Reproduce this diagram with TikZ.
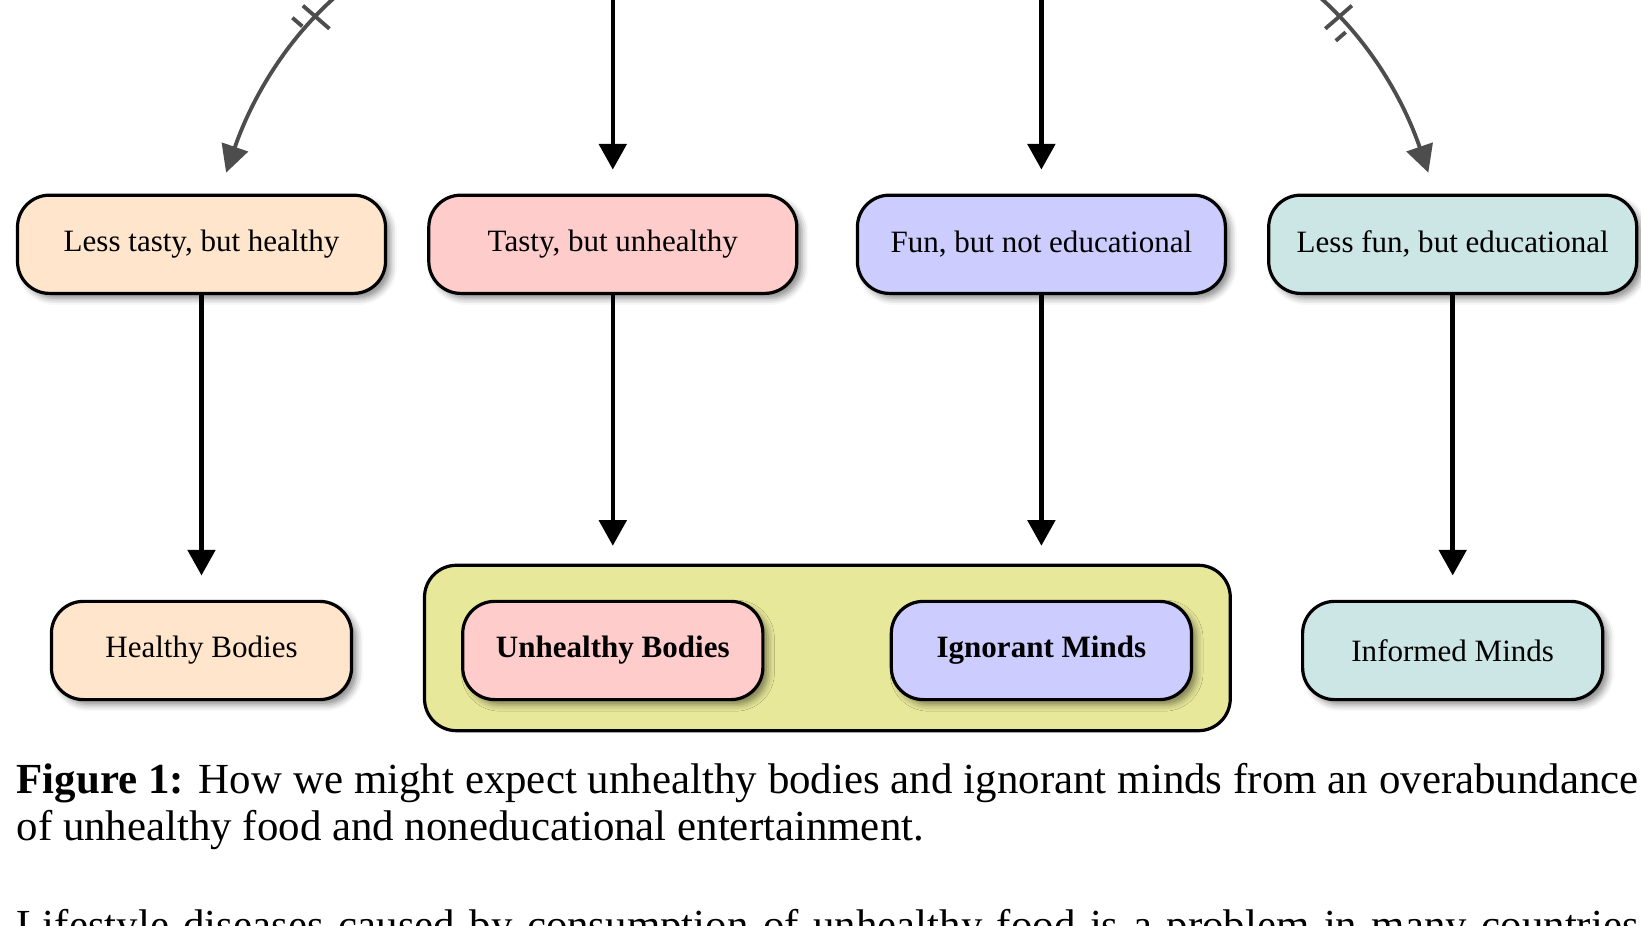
\documentclass[tikz,border=0pt]{standalone}
\usepackage{fontspec}
\setmainfont{Liberation Serif}
\usetikzlibrary{arrows.meta,shadows.blur,decorations.markings}

\definecolor{peach}{RGB}{255,229,204}
\definecolor{rose}{RGB}{255,204,204}
\definecolor{lilac}{RGB}{204,204,255}
\definecolor{mint}{RGB}{204,229,229}
\definecolor{khaki}{RGB}{232,232,154}
\definecolor{linkgray}{RGB}{77,77,77}

\tikzset{
  box/.style={draw=black, line width=1pt, rounded corners=10pt,
    minimum height=30.7pt, align=center, inner sep=0pt,
    font=\fontsize{9.7}{11.5}\selectfont,
    blur shadow={shadow xshift=1.6pt, shadow yshift=-1.6pt,
      shadow blur radius=2pt, shadow opacity=45}},
  choice/.style={box, minimum width=115pt},
  outcome/.style={box, minimum width=93.8pt},
  groupbox/.style={draw=black, line width=1pt, rounded corners=10pt,
    fill=khaki, minimum width=251.8pt, minimum height=51.7pt, inner sep=0pt},
  flow/.style={line width=1.4pt, -{Triangle[width=8.5pt,length=8pt]}},
  tradeoff/.style={line width=1.2pt, draw=linkgray,
    -{Triangle[width=8.5pt,length=8.5pt]},
    postaction={decorate},
    decoration={markings, mark=at position 0.43 with {
      \draw[-, line width=1.2pt, linkgray]
        (-2.5pt,-5.5pt) -- (-2.5pt,5.5pt)
        (2.5pt,-5.5pt) -- (2.5pt,5.5pt);}}},
  prose/.style={anchor=base west, inner sep=0pt,
    font=\fontsize{13.4}{14.4}\selectfont},
}

\begin{document}
\begin{tikzpicture}[x=0.3125pt, y=-0.3125pt]
  \useasboundingbox (0,0) rectangle (1641,926);
  \clip (0,0) rectangle (1641,926);

  % sources above the visible area
  \coordinate (foodL) at (430,-60);
  \coordinate (foodC) at (612.8,-60);
  \coordinate (funC) at (1041.4,-60);
  \coordinate (funR) at (1224.8,-60);

  % the four choices
  \node[choice, fill=peach] (b1) at (201.5,244.3) {Less tasty, but healthy};
  \node[choice, fill=rose]  (b2) at (612.8,244.3) {Tasty, but unhealthy};
  \node[choice, fill=lilac] (b3) at (1041.4,244.3) {Fun, but not educational};
  \node[choice, fill=mint]  (b4) at (1452.7,244.3) {Less fun, but educational};

  % outcomes
  \node[groupbox] (grp) at (827.4,648) {};
  \node[outcome, fill=peach] (hb)  at (201.5,650.5) {Healthy Bodies};
  \node[outcome, fill=rose]  (ub)  at (612.8,650.5) {\textbf{Unhealthy Bodies}};
  \node[outcome, fill=lilac] (im)  at (1041.4,650.5) {\textbf{Ignorant Minds}};
  \node[outcome, fill=mint]  (inf) at (1452.7,650.5) {Informed Minds};

  % incoming links
  \draw[tradeoff, shorten >=6.9pt] (foodL) .. controls (320,-20) and (258,80) .. (b1);
  \draw[tradeoff, shorten >=6.9pt] (funR) .. controls (1334.8,-20) and (1396.8,80) .. (b4);
  \draw[flow, shorten >=7.5pt] (foodC) -- (b2.north);
  \draw[flow, shorten >=7.5pt] (funC) -- (b3.north);

  % choices to outcomes
  \draw[flow, shorten >=7.6pt] (b1.south) -- (hb.north);
  \draw[flow, shorten >=5.6pt] (b2.south) -- (b2.south |- grp.north);
  \draw[flow, shorten >=5.6pt] (b3.south) -- (b3.south |- grp.north);
  \draw[flow, shorten >=7.6pt] (b4.south) -- (inf.north);

  % caption and following text
  \node[prose, text width=506.9pt, align=justify] (cap) at (16,794)
    {\textbf{Figure 1:} How we might expect unhealthy bodies and ignorant minds from an overabundance\linebreak of unhealthy food and noneducational entertainment.};
  \node[prose] (body) at (16,940)
    {\makebox[506.9pt][s]{Lifestyle diseases caused by consumption of unhealthy food is a problem in many countries}};
\end{tikzpicture}
\end{document}
